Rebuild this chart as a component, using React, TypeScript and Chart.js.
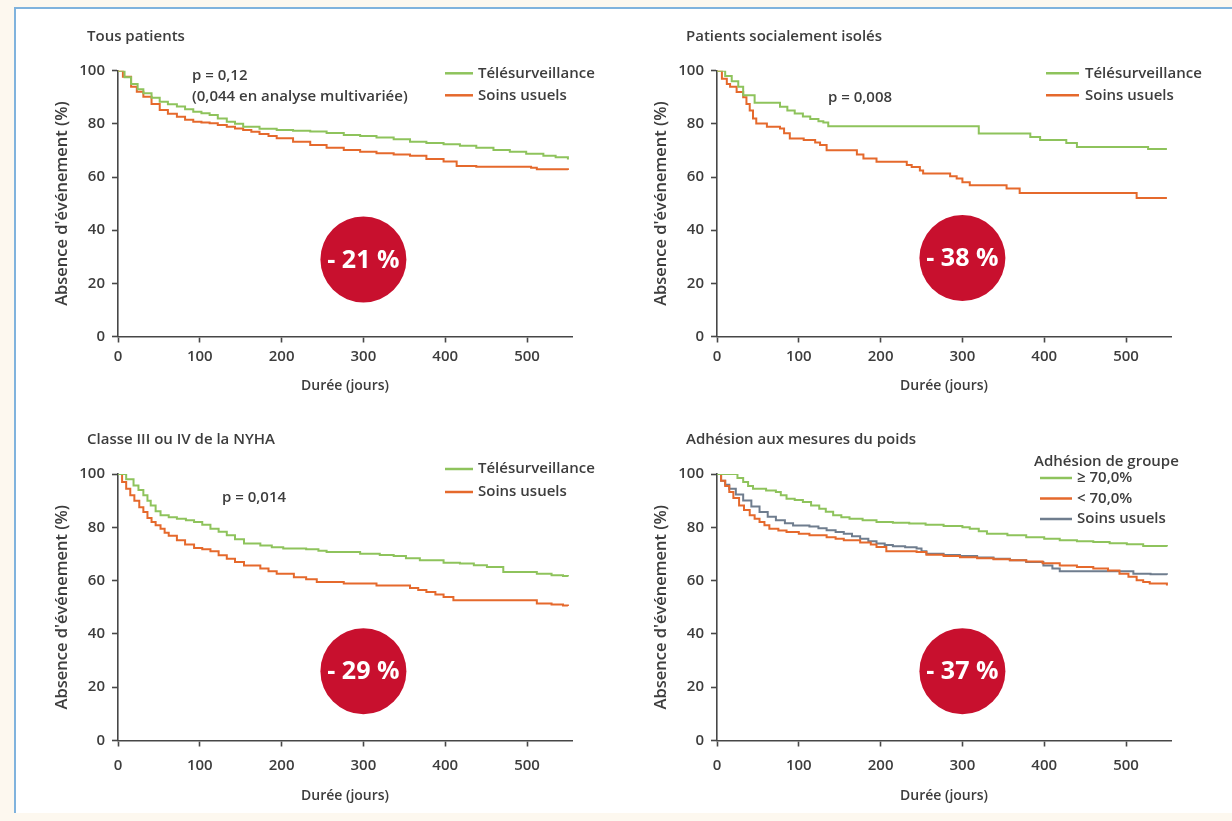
import React, { useEffect, useRef } from "react";
import { Chart, registerables } from "chart.js";

Chart.register(...registerables);

const FONT = '"Open Sans", "DejaVu Sans", sans-serif';
const TEXT = "#3d3d3d";
const AXIS = "#474747";
const GREEN = "#8ec35c";
const ORANGE = "#e5692c";
const GRAY = "#6f7d8e";
const RED = "#c8102e";

// Axis settings / tick labels
const X_MAX = 555;
const X_STEP = 100;
const Y_STEP = 20;
const X_TITLE = "Durée (jours)";
const Y_TITLE = "Absence d'événement (%)";

// ---- Panel 1 : Tous patients ----
const p1TeleDays = [0, 8, 16, 24, 31, 41, 51, 61, 72, 82, 92, 102, 112, 122, 133, 143, 153, 173, 194, 214, 235, 255, 276, 296, 316, 337, 357, 377, 398, 418, 438, 459, 479, 499, 520, 535, 550];
const p1TeleSurv = [100, 97.5, 95, 93, 91.5, 89.8, 88.3, 87.4, 86.5, 85.5, 84.6, 84, 83.3, 82, 80.8, 80, 78.9, 78.2, 77.7, 77.4, 77.1, 76.6, 75.8, 75.4, 74.9, 74.2, 73.3, 72.8, 72.3, 71.8, 71, 70.2, 69.5, 68.8, 68, 67.4, 66.6];
const p1UsualDays = [0, 6, 16, 23, 31, 41, 51, 61, 72, 82, 92, 102, 112, 122, 133, 143, 153, 163, 173, 184, 194, 214, 235, 255, 276, 296, 316, 337, 357, 377, 398, 414, 438, 479, 505, 512, 550];
const p1UsualSurv = [100, 97.7, 94, 92.1, 90.2, 87.5, 85.2, 83.8, 82.7, 81.5, 80.8, 80.5, 80.2, 79.6, 78.9, 78.3, 77.7, 77, 76.2, 75.4, 74.6, 73.3, 72, 71, 70.2, 69.5, 68.9, 68.5, 68, 66.8, 65.8, 64.1, 63.9, 63.9, 63.5, 62.9, 62.6];

// ---- Panel 2 : Patients socialement isolés ----
const p2TeleDays = [0, 10, 18, 26, 32, 46, 77, 86, 95, 105, 114, 124, 130, 136, 320, 383, 395, 427, 440, 527, 550];
const p2TeleSurv = [100, 98, 96, 94, 90.8, 87.9, 86.4, 85, 83.9, 82.8, 81.8, 81, 80.5, 79.1, 76.4, 75.1, 73.9, 72.8, 71.3, 70.5, 70.5];
const p2UsualDays = [0, 6, 12, 16, 24, 32, 36, 40, 44, 48, 61, 77, 82, 89, 106, 120, 126, 134, 171, 179, 195, 232, 238, 248, 252, 285, 293, 300, 309, 354, 370, 513, 550];
const p2UsualSurv = [100, 97, 95, 94, 92, 90, 87.5, 85, 82, 80.1, 78.9, 78.3, 76.5, 74.5, 73.9, 73, 72, 70.1, 68.5, 67, 65.7, 64.5, 63.8, 62.5, 61.3, 60.3, 59.4, 58, 56.9, 55.7, 54, 52.1, 52.1];

// ---- Panel 3 : Classe III ou IV de la NYHA ----
const p3TeleDays = [0, 10, 19, 25, 31, 36, 40, 46, 52, 62, 72, 83, 93, 103, 113, 123, 133, 143, 154, 174, 188, 202, 230, 245, 255, 296, 320, 337, 352, 369, 398, 418, 435, 451, 471, 512, 530, 544, 550];
const p3TeleSurv = [100, 98, 95.7, 94, 92, 90, 88.2, 86, 84.5, 83.8, 83.2, 82.6, 82, 81, 79.5, 78.3, 77, 75.5, 73.9, 73.2, 72.5, 72, 71.8, 71.2, 70.7, 70.1, 69.6, 69.2, 68.4, 67.6, 66.7, 66.4, 65.8, 65.1, 63.2, 62.6, 62, 61.7, 61.5];
const p3UsualDays = [0, 5, 10, 15, 20, 26, 31, 36, 41, 46, 52, 57, 62, 72, 82, 93, 103, 113, 123, 133, 143, 154, 174, 184, 194, 215, 230, 243, 276, 316, 357, 367, 377, 388, 398, 410, 504, 512, 530, 544, 550];
const p3UsualSurv = [100, 97, 94.5, 92, 90, 87.5, 85.7, 83.5, 82, 80.8, 79.5, 78, 76.8, 75.1, 73.5, 72.2, 71.8, 71, 69.5, 68.2, 67, 65.7, 64.5, 63.5, 62.6, 61.3, 60.5, 59.5, 58.9, 58.2, 57.2, 56.5, 55.7, 54.8, 53.8, 52.6, 52.6, 51.4, 51, 50.7, 50.5];

// ---- Panel 4 : Adhésion aux mesures du poids ----
const p4HighDays = [0, 19, 25, 32, 38, 44, 60, 72, 78, 85, 95, 105, 115, 125, 133, 142, 152, 162, 178, 195, 215, 235, 255, 277, 300, 309, 320, 330, 355, 378, 400, 419, 440, 460, 480, 501, 521, 550];
const p4HighSurv = [100, 100, 98.5, 97, 95.5, 94.5, 93.8, 93.2, 92, 90.7, 90.2, 89.5, 88.2, 87, 85.8, 84.5, 83.8, 83.2, 82.6, 82, 81.7, 81.4, 81, 80.5, 80, 79.5, 78.5, 77.6, 77, 76.3, 75.7, 75.1, 74.8, 74.5, 74, 73.6, 73, 72.8];
const p4LowDays = [0, 5, 10, 15, 20, 27, 33, 40, 46, 52, 58, 64, 75, 85, 100, 113, 134, 145, 155, 175, 188, 195, 207, 244, 256, 277, 297, 318, 338, 358, 378, 398, 419, 440, 460, 478, 492, 503, 513, 521, 529, 550];
const p4LowSurv = [100, 97.5, 95.5, 93.2, 91, 88.2, 86.5, 84.5, 83.2, 82, 80.8, 79.5, 78.8, 78.2, 77.6, 77, 76.3, 75.7, 75.1, 74.3, 73.5, 72.6, 71, 70.7, 69.7, 69.2, 68.8, 68.4, 68, 67.6, 67.2, 66.5, 65.7, 65.1, 64.5, 63.8, 62.6, 61.4, 60.1, 59.5, 58.9, 58.2];
const p4UsualDays = [0, 5, 10, 15, 23, 32, 42, 52, 62, 72, 83, 93, 113, 124, 134, 145, 155, 165, 175, 185, 195, 205, 215, 230, 244, 250, 256, 277, 297, 318, 338, 358, 378, 399, 410, 419, 482, 509, 530, 550];
const p4UsualSurv = [100, 97.5, 96, 94.5, 92.3, 90.1, 87.8, 85.7, 84, 82.6, 81.5, 80.7, 80.3, 79.6, 78.9, 78.2, 77.6, 76.6, 75.7, 74.8, 73.9, 73.4, 72.9, 72.5, 72, 71, 70.1, 69.6, 69.2, 68.7, 68.2, 67.6, 67, 65.7, 64.5, 63.5, 63.5, 62.6, 62.4, 62.2];

type Series = { label: string; color: string; days: number[]; surv: number[] };
type PanelCfg = {
  left: number;
  top: number;
  padTop: number;
  padBottom: number;
  xTickPad: number;
  xAxisH: number;
  title: string;
  series: Series[];
  pText: string[];
  pDx: number;
  pDy: number;
  badge: string;
  badgeDay: number;
  badgeVal: number;
  legendHeader?: string;
  legHeaderDx?: number;
  legHeaderDy?: number;
  legLine0: number;
  legLine1: number;
  legText: number;
  legDy: number;
  legRow: number;
};

const PANELS: PanelCfg[] = [
  {
    left: 15, top: 10, padTop: 60.7, padBottom: 13.5, xTickPad: 5, xAxisH: 60,
    title: "Tous patients",
    series: [
      { label: "Télésurveillance", color: GREEN, days: p1TeleDays, surv: p1TeleSurv },
      { label: "Soins usuels", color: ORANGE, days: p1UsualDays, surv: p1UsualSurv },
    ],
    pText: ["p = 0,12", "(0,044 en analyse multivariée)"], pDx: 74, pDy: 5,
    badge: "- 21 %", badgeDay: 300, badgeVal: 29,
    legLine0: 327, legLine1: 355, legText: 360, legDy: 2.6, legRow: 22,
  },
  {
    left: 614, top: 10, padTop: 60.7, padBottom: 13.5, xTickPad: 5, xAxisH: 60,
    title: "Patients socialement isolés",
    series: [
      { label: "Télésurveillance", color: GREEN, days: p2TeleDays, surv: p2TeleSurv },
      { label: "Soins usuels", color: ORANGE, days: p2UsualDays, surv: p2UsualSurv },
    ],
    pText: ["p = 0,008"], pDx: 111, pDy: 27,
    badge: "- 38 %", badgeDay: 300, badgeVal: 29.5,
    legLine0: 329, legLine1: 362, legText: 368, legDy: 2.6, legRow: 22,
  },
  {
    left: 15, top: 413, padTop: 61, padBottom: 6.5, xTickPad: 10, xAxisH: 66,
    title: "Classe III ou IV de la NYHA",
    series: [
      { label: "Télésurveillance", color: GREEN, days: p3TeleDays, surv: p3TeleSurv },
      { label: "Soins usuels", color: ORANGE, days: p3UsualDays, surv: p3UsualSurv },
    ],
    pText: ["p = 0,014"], pDx: 104, pDy: 24,
    badge: "- 29 %", badgeDay: 300, badgeVal: 26,
    legLine0: 327, legLine1: 355, legText: 360, legDy: -5, legRow: 23,
  },
  {
    left: 614, top: 413, padTop: 61, padBottom: 6.5, xTickPad: 10, xAxisH: 66,
    title: "Adhésion aux mesures du poids",
    series: [
      { label: "≥ 70,0%", color: GREEN, days: p4HighDays, surv: p4HighSurv },
      { label: "< 70,0%", color: ORANGE, days: p4LowDays, surv: p4LowSurv },
      { label: "Soins usuels", color: GRAY, days: p4UsualDays, surv: p4UsualSurv },
    ],
    pText: [], pDx: 0, pDy: 0,
    badge: "- 37 %", badgeDay: 300, badgeVal: 26,
    legendHeader: "Adhésion de groupe", legHeaderDx: 317, legHeaderDy: -12.5,
    legLine0: 323, legLine1: 355, legText: 360, legDy: 4, legRow: 20.5,
  },
];

const W = 600;
const H = 400;

function overlayPlugin(cfg: PanelCfg) {
  return {
    id: "overlay",
    afterDraw(chart: any) {
      const { ctx, chartArea: ca, scales } = chart;
      ctx.save();
      ctx.textBaseline = "middle";
      ctx.textAlign = "left";
      ctx.fillStyle = TEXT;
      ctx.font = `600 15px ${FONT}`;
      ctx.fillText(cfg.title, ca.left - 31, ca.top - 34);
      cfg.pText.forEach((t, i) => ctx.fillText(t, ca.left + cfg.pDx, ca.top + cfg.pDy + i * 21));
      if (cfg.legendHeader) {
        ctx.fillText(cfg.legendHeader, ca.left + (cfg.legHeaderDx || 0), ca.top + (cfg.legHeaderDy || 0));
      }
      chart.data.datasets.forEach((ds: any, i: number) => {
        const yy = ca.top + cfg.legDy + i * cfg.legRow;
        ctx.strokeStyle = ds.borderColor;
        ctx.lineWidth = 2.5;
        ctx.beginPath();
        ctx.moveTo(ca.left + cfg.legLine0, yy);
        ctx.lineTo(ca.left + cfg.legLine1, yy);
        ctx.stroke();
        ctx.fillStyle = TEXT;
        ctx.fillText(ds.label, ca.left + cfg.legText, yy);
      });
      const cx = scales.x.getPixelForValue(cfg.badgeDay);
      const cy = scales.y.getPixelForValue(cfg.badgeVal);
      ctx.fillStyle = RED;
      ctx.beginPath();
      ctx.arc(cx, cy, 43, 0, Math.PI * 2);
      ctx.fill();
      ctx.fillStyle = "#ffffff";
      ctx.font = `bold 25px ${FONT}`;
      ctx.textAlign = "center";
      ctx.fillText(cfg.badge, cx, cy + 1);
      ctx.restore();
    },
  };
}

function Panel({ cfg }: { cfg: PanelCfg }) {
  const ref = useRef<HTMLCanvasElement | null>(null);
  useEffect(() => {
    if (!ref.current) return;
    const tickFont = { family: FONT, size: 15, weight: 600 as any };
    const chart = new Chart(ref.current, {
      type: "line",
      data: {
        datasets: cfg.series.map((s) => ({
          label: s.label,
          data: s.days.map((d, i) => ({ x: d, y: s.surv[i] })),
          borderColor: s.color,
          backgroundColor: s.color,
          borderWidth: 2,
          pointRadius: 0,
          stepped: "before" as const,
          fill: false,
        })),
      },
      options: {
        animation: false,
        responsive: false,
        maintainAspectRatio: false,
        layout: { padding: { left: 0, right: 43, top: cfg.padTop, bottom: cfg.padBottom } },
        plugins: { legend: { display: false }, tooltip: { enabled: false }, title: { display: false } },
        scales: {
          x: {
            type: "linear",
            min: 0,
            max: X_MAX,
            afterFit: (s: any) => {
              s.height = cfg.xAxisH;
            },
            border: { display: true, color: AXIS, width: 1.6 },
            grid: { drawOnChartArea: false, drawTicks: true, tickLength: 6, color: AXIS, tickColor: AXIS, tickWidth: 1.6 },
            ticks: { stepSize: X_STEP, includeBounds: false, color: TEXT, font: tickFont, padding: cfg.xTickPad, maxRotation: 0 },
            title: { display: true, text: X_TITLE, color: TEXT, font: { family: FONT, size: 14, weight: 600 as any }, padding: { top: 0, bottom: 2 } },
          },
          y: {
            type: "linear",
            min: 0,
            max: 100,
            afterFit: (s: any) => {
              s.width = 103;
            },
            border: { display: true, color: AXIS, width: 1.6 },
            grid: { drawOnChartArea: false, drawTicks: true, tickLength: 6, color: AXIS, tickColor: AXIS, tickWidth: 1.6 },
            ticks: { stepSize: Y_STEP, color: TEXT, font: tickFont, padding: 7 },
            title: { display: true, text: Y_TITLE, color: TEXT, font: { family: FONT, size: 16.5, weight: 600 as any }, padding: { top: 37, bottom: 0 } },
          },
        },
      },
      plugins: [overlayPlugin(cfg)],
    } as any);
    return () => chart.destroy();
  }, [cfg]);
  return (
    <canvas
      ref={ref}
      width={W}
      height={H}
      style={{ position: "absolute", left: cfg.left, top: cfg.top, width: W, height: H }}
    />
  );
}

export default function App() {
  return (
    <div
      style={{
        position: "absolute",
        left: 0,
        top: 0,
        width: 1232,
        height: 821,
        background: "#fdf8ef",
        overflow: "hidden",
      }}
    >
      <div
        style={{
          position: "absolute",
          left: 14,
          top: 7,
          width: 1240,
          height: 804,
          background: "#ffffff",
          borderTop: "2px solid #80b3dd",
          borderLeft: "2px solid #80b3dd",
        }}
      />
      {PANELS.map((p, i) => (
        <Panel key={i} cfg={p} />
      ))}
    </div>
  );
}
